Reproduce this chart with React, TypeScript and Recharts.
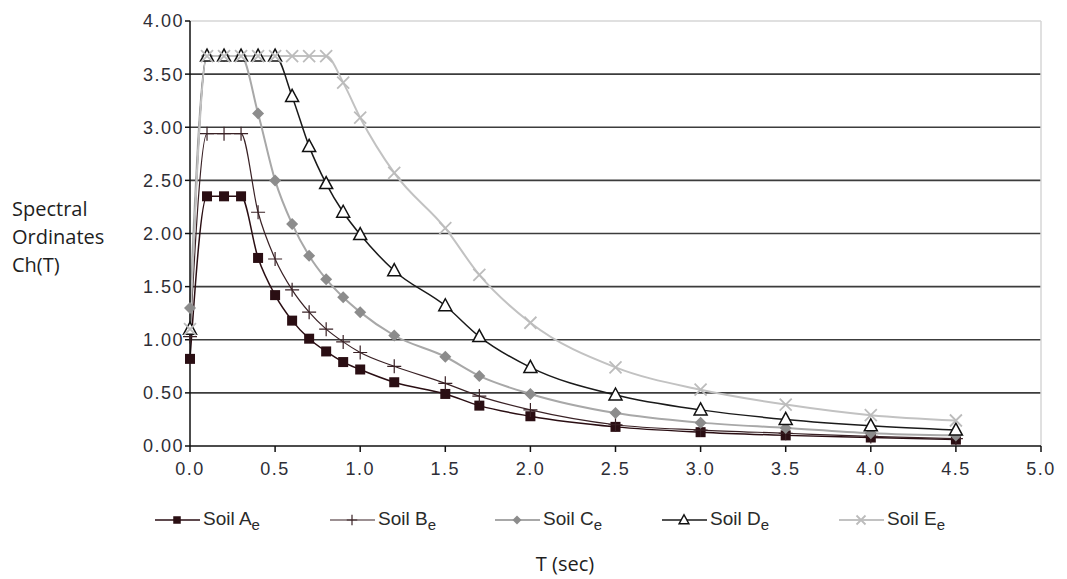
import React from "react";
import {
  LineChart,
  Line,
  XAxis,
  YAxis,
  CartesianGrid,
  ReferenceLine,
} from "recharts";

// Period (s) and spectral ordinates Ch(T) for each soil class
const T_SEC = [0, 0.1, 0.2, 0.3, 0.4, 0.5, 0.6, 0.7, 0.8, 0.9, 1.0, 1.2, 1.5, 1.7, 2.0, 2.5, 3.0, 3.5, 4.0, 4.5];
const SOIL_A = [0.82, 2.35, 2.35, 2.35, 1.77, 1.42, 1.18, 1.01, 0.89, 0.79, 0.72, 0.6, 0.49, 0.38, 0.28, 0.18, 0.13, 0.1, 0.08, 0.06];
const SOIL_B = [1.03, 2.94, 2.94, 2.94, 2.2, 1.76, 1.47, 1.26, 1.1, 0.98, 0.88, 0.75, 0.59, 0.47, 0.34, 0.2, 0.15, 0.12, 0.09, 0.07];
const SOIL_C = [1.3, 3.67, 3.67, 3.67, 3.13, 2.5, 2.09, 1.79, 1.57, 1.4, 1.26, 1.04, 0.84, 0.66, 0.49, 0.31, 0.22, 0.17, 0.12, 0.1];
const SOIL_D = [1.1, 3.67, 3.67, 3.67, 3.67, 3.67, 3.29, 2.82, 2.47, 2.2, 1.99, 1.65, 1.32, 1.03, 0.74, 0.48, 0.34, 0.25, 0.19, 0.15];
const SOIL_E = [1.1, 3.67, 3.67, 3.67, 3.67, 3.67, 3.67, 3.67, 3.67, 3.42, 3.09, 2.57, 2.05, 1.61, 1.16, 0.74, 0.53, 0.39, 0.29, 0.24];

const X_TICKS = [0, 0.5, 1, 1.5, 2, 2.5, 3, 3.5, 4, 4.5, 5];
const Y_TICKS = [0, 0.5, 1, 1.5, 2, 2.5, 3, 3.5, 4];
const GRID_VALUES = [0.5, 1, 1.5, 2, 2.5, 3, 3.5];

const data = T_SEC.map((t, i) => ({
  t,
  A: SOIL_A[i],
  B: SOIL_B[i],
  C: SOIL_C[i],
  D: SOIL_D[i],
  E: SOIL_E[i],
}));

type MarkerProps = { cx?: number; cy?: number; s?: number };

const Square = ({ cx = 0, cy = 0, s = 1 }: MarkerProps) => (
  <rect x={cx - 5 * s} y={cy - 5 * s} width={10 * s} height={10 * s} fill="#2a0e13" />
);
const Plus = ({ cx = 0, cy = 0, s = 1 }: MarkerProps) => (
  <path
    d={`M${cx - 7 * s},${cy}H${cx + 7 * s}M${cx},${cy - 7 * s}V${cy + 7 * s}`}
    stroke="#3a2226"
    strokeWidth={1.2}
  />
);
const Diamond = ({ cx = 0, cy = 0, s = 1 }: MarkerProps) => (
  <path
    d={`M${cx},${cy - 6 * s}L${cx + 6 * s},${cy}L${cx},${cy + 6 * s}L${cx - 6 * s},${cy}Z`}
    fill="#8c8c8c"
  />
);
const Triangle = ({ cx = 0, cy = 0, s = 1 }: MarkerProps) => (
  <path
    d={`M${cx},${cy - 7 * s}L${cx + 6.5 * s},${cy + 5 * s}L${cx - 6.5 * s},${cy + 5 * s}Z`}
    fill="#fff"
    stroke="#111"
    strokeWidth={1.5}
  />
);
const Cross = ({ cx = 0, cy = 0, s = 1 }: MarkerProps) => (
  <path
    d={`M${cx - 6 * s},${cy - 6 * s}L${cx + 6 * s},${cy + 6 * s}M${cx + 6 * s},${cy - 6 * s}L${cx - 6 * s},${cy + 6 * s}`}
    stroke="#bcbcbc"
    strokeWidth={1.8}
  />
);

const series = [
  { key: "A", label: "A", color: "#2a0e13", width: 1.5, Marker: Square },
  { key: "B", label: "B", color: "#3a2226", width: 1.2, Marker: Plus },
  { key: "C", label: "C", color: "#a8a8a8", width: 2, Marker: Diamond },
  { key: "D", label: "D", color: "#1a1a1a", width: 1.5, Marker: Triangle },
  { key: "E", label: "E", color: "#c2c2c2", width: 2, Marker: Cross },
];

const LEGEND_X = [155, 330, 495, 662, 839];

const tickStyle = {
  fill: "#2e2e36",
  fontSize: 18,
  fontFamily: "'Liberation Sans', Arial, sans-serif",
  letterSpacing: 1.5,
};

export default function App() {
  return (
    <div style={{ position: "absolute", left: 0, top: 0, width: 1067, height: 579, background: "#fff" }}>
      <LineChart
        width={1067}
        height={579}
        data={data}
        margin={{ top: 21, right: 26, left: 130, bottom: 103 }}
      >
        <CartesianGrid
          horizontal
          vertical={false}
          horizontalValues={GRID_VALUES}
          stroke="#3c3c3c"
          strokeWidth={1.6}
        />
        <ReferenceLine y={4} stroke="#d6d6d6" strokeWidth={1.5} />
        <ReferenceLine x={5} stroke="#d6d6d6" strokeWidth={1.5} />
        <XAxis
          dataKey="t"
          type="number"
          domain={[0, 5]}
          ticks={X_TICKS}
          tickFormatter={(v: number) => v.toFixed(1)}
          axisLine={{ stroke: "#111", strokeWidth: 1.5 }}
          tickLine={{ stroke: "#111", strokeWidth: 1.5 }}
          tickSize={6}
          tickMargin={10}
          tick={tickStyle}
          height={30}
          interval={0}
        />
        <YAxis
          type="number"
          domain={[0, 4]}
          ticks={Y_TICKS}
          tickFormatter={(v: number) => v.toFixed(2)}
          axisLine={{ stroke: "#111", strokeWidth: 1.5 }}
          tickLine={{ stroke: "#111", strokeWidth: 1.5 }}
          tickSize={5}
          tickMargin={1}
          tick={tickStyle}
          width={60}
          interval={0}
        />
        {series.map(({ key, color, width, Marker }) => (
          <Line
            key={key}
            dataKey={key}
            type="monotone"
            stroke={color}
            strokeWidth={width}
            isAnimationActive={false}
            activeDot={false}
            dot={(p: any) => <Marker key={`${key}-${p.index}`} cx={p.cx} cy={p.cy} />}
          />
        ))}
      </LineChart>

      <div
        style={{
          position: "absolute",
          left: 12,
          top: 195,
          fontFamily: "'Open Sans', sans-serif",
          fontSize: 20,
          lineHeight: "28px",
          color: "#1e1e1e",
        }}
      >
        Spectral
        <br />
        Ordinates
        <br />
        Ch(T)
      </div>

      {series.map(({ key, label, color, width, Marker }, i) => (
        <div
          key={key}
          style={{
            position: "absolute",
            left: LEGEND_X[i],
            top: 508,
            display: "flex",
            alignItems: "center",
            height: 24,
            fontFamily: "'Liberation Sans', Arial, sans-serif",
            fontSize: 19,
            color: "#2a2a2a",
          }}
        >
          <svg width={46} height={20} style={{ marginRight: 2 }}>
            <line x1={0} y1={10} x2={45} y2={10} stroke={color} strokeWidth={width} />
            <Marker cx={22} cy={10} s={0.75} />
          </svg>
          <span>
            Soil {label}
            <sub style={{ fontSize: 15, verticalAlign: "-5px" }}>e</sub>
          </span>
        </div>
      ))}

      <div
        style={{
          position: "absolute",
          left: 465,
          width: 200,
          top: 550,
          textAlign: "center",
          fontFamily: "'Open Sans', sans-serif",
          fontSize: 20,
          lineHeight: "28px",
          color: "#1e1e1e",
        }}
      >
        T (sec)
      </div>
    </div>
  );
}
